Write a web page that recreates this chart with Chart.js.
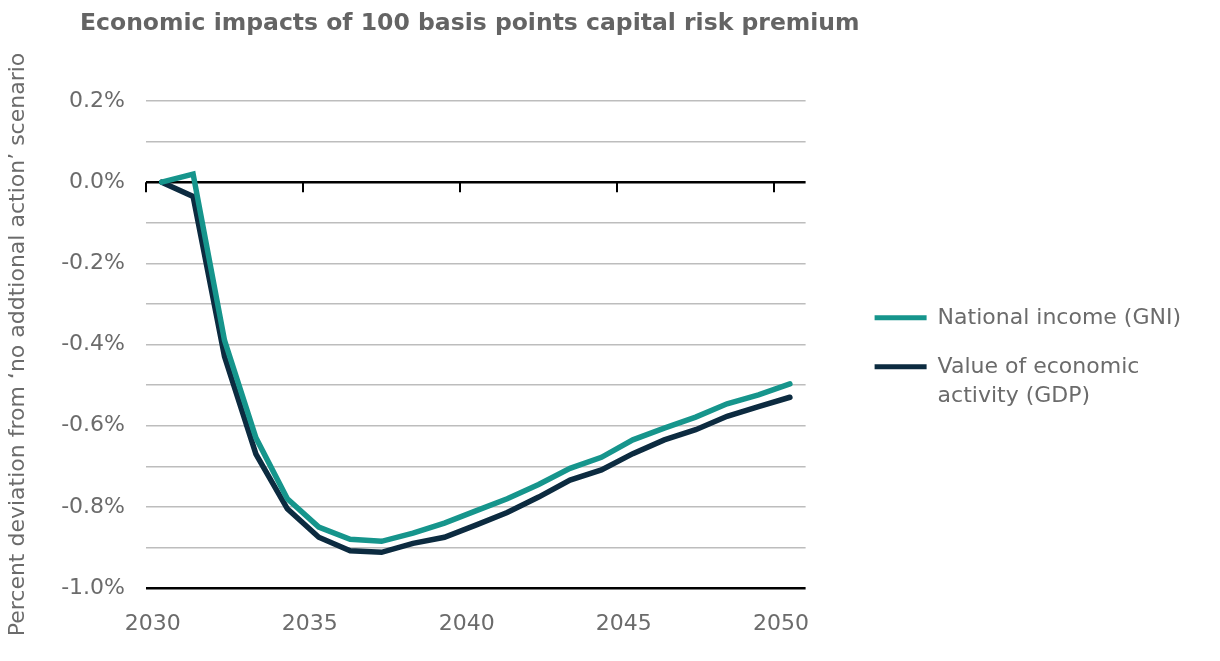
<!DOCTYPE html>
<html>
<head>
<meta charset="utf-8">
<script src="https://cdn.jsdelivr.net/npm/chart.js@4.4.1/dist/chart.umd.min.js"></script>
<style>
  body { margin: 0; background: #fff; }
  #wrap { position: relative; width: 1220px; height: 661px; }
  #title {
    position: absolute; left: 80px; top: 8px;
    font: bold 23.5px "DejaVu Sans", sans-serif; color: #646464;
  }
</style>
</head>
<body>
<div id="wrap">
  <div id="title">Economic impacts of 100 basis points capital risk premium</div>
  <canvas id="chart"></canvas>
</div>
<script>
const years = [2030, 2031, 2032, 2033, 2034, 2035, 2036, 2037, 2038, 2039, 2040,
               2041, 2042, 2043, 2044, 2045, 2046, 2047, 2048, 2049, 2050];
// percent deviation from baseline
const gni = [0.00, 0.02, -0.39, -0.63, -0.78, -0.85, -0.88, -0.885, -0.865, -0.84, -0.81,
             -0.78, -0.745, -0.705, -0.678, -0.635, -0.606, -0.579, -0.546, -0.524, -0.497];
const gdp = [0.00, -0.035, -0.43, -0.67, -0.805, -0.875, -0.908, -0.912, -0.89, -0.875, -0.845,
             -0.814, -0.776, -0.734, -0.709, -0.669, -0.635, -0.61, -0.577, -0.553, -0.53];
const seriesNames = ["National income (GNI)", ["Value of economic", "activity (GDP)"]];
const yTitle = "Percent deviation from \u2018no addtional action\u2019 scenario";

const TEAL = "#16958c", NAVY = "#0c2b40", GREY = "#6b6b6b";
const FONT = "'DejaVu Sans', sans-serif";

// small tick marks hanging from the zero line, every 5 years
const zeroTicks = {
  id: "zeroTicks",
  beforeDatasetsDraw(chart) {
    const x = chart.scales.x, y = chart.scales.y;
    const step = x.getPixelForValue(1) - x.getPixelForValue(0);
    const y0 = y.getPixelForValue(0);
    const ctx = chart.ctx;
    ctx.save();
    ctx.strokeStyle = "#000";
    ctx.lineWidth = 2;
    for (let i = 0; i < years.length; i += 5) {
      const px = Math.round(x.getPixelForValue(i) - step / 2);
      ctx.beginPath();
      ctx.moveTo(px, y0);
      ctx.lineTo(px, y0 + 10);
      ctx.stroke();
    }
    ctx.restore();
  }
};

const isZero = v => Math.abs(v) < 1e-6;
const isMin = v => Math.abs(v + 1) < 1e-6;
const pct = v => (isZero(v) ? 0 : v).toFixed(1) + "%";

new Chart(document.getElementById("chart"), {
  type: "line",
  data: {
    labels: years,
    datasets: [
      { label: "GNI", data: gni, borderColor: TEAL, backgroundColor: TEAL },
      { label: "GDP", data: gdp, borderColor: NAVY, backgroundColor: NAVY }
    ]
  },
  options: {
    responsive: true,
    maintainAspectRatio: false,
    animation: false,
    layout: { padding: { top: 101, bottom: 0, left: 0, right: 29 } },
    elements: {
      line: { borderWidth: 5.5, tension: 0, borderCapStyle: "round", borderJoinStyle: "miter" },
      point: { radius: 0 }
    },
    plugins: {
      tooltip: { enabled: false },
      legend: {
        position: "right",
        fullSize: false,
        maxWidth: 420,
        title: { display: true, text: "", padding: 9, font: { size: 12 } },
        labels: {
          font: { family: FONT, size: 22, lineHeight: 1.336 },
          color: GREY,
          boxWidth: 52,
          boxHeight: 5,
          padding: 27,
          useBorderRadius: true,
          borderRadius: 2.5,
          generateLabels: chart => chart.data.datasets.map((d, i) => ({
            text: seriesNames[i],
            fillStyle: d.borderColor,
            strokeStyle: d.borderColor,
            lineWidth: 0,
            fontColor: GREY,
            datasetIndex: i
          }))
        }
      }
    },
    scales: {
      x: {
        offset: true,
        afterFit: s => { s.height = 73; },
        grid: { display: false, drawTicks: false },
        border: { display: false },
        ticks: {
          autoSkip: false,
          maxRotation: 0,
          padding: 23,
          labelOffset: -9,
          color: GREY,
          font: { family: FONT, size: 22 },
          callback: (v, i) => (i % 5 === 0 ? years[i] : "")
        }
      },
      y: {
        min: -1.0,
        max: 0.2,
        afterFit: s => { s.width = 146; },
        border: { display: false },
        grid: {
          drawTicks: false,
          color: c => (isZero(c.tick.value) || isMin(c.tick.value) ? "#000" : "#bdbdbd"),
          lineWidth: c => (isZero(c.tick.value) || isMin(c.tick.value) ? 2.5 : 1.5)
        },
        ticks: {
          stepSize: 0.1,
          padding: 21,
          color: GREY,
          font: { family: FONT, size: 22 },
          callback: v => (Math.round(v * 10) % 2 === 0 ? pct(v) : "")
        },
        title: {
          display: true,
          text: yTitle,
          color: GREY,
          font: { family: FONT, size: 22 },
          padding: { top: 5, bottom: 0 }
        }
      },
      gap: {
        position: "right",
        display: true,
        afterFit: s => { s.width = 42; },
        grid: { display: false },
        border: { display: false },
        ticks: { display: false }
      }
    }
  },
  plugins: [zeroTicks]
});
</script>
</body>
</html>
